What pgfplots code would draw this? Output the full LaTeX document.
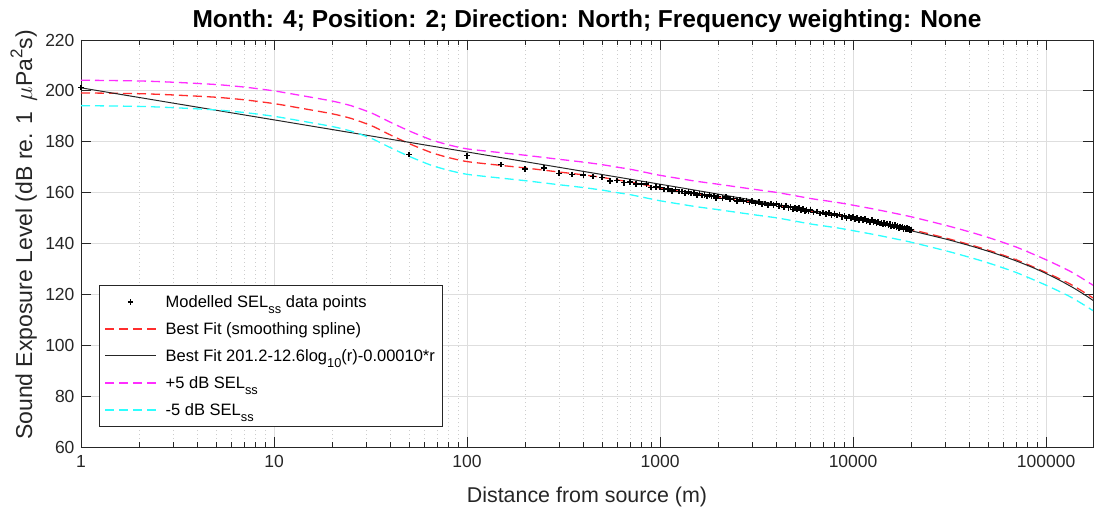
\documentclass[border=0pt]{standalone}
\usepackage{pgfplots}
\pgfplotsset{compat=1.18}
\usepackage{pgfplotstable}
\usepackage{fontspec}
\setmainfont{Liberation Sans}
\definecolor{axgray}{RGB}{38,38,38}
\definecolor{gridmaj}{RGB}{222,222,222}
\definecolor{gridmin}{RGB}{205,205,205}
\definecolor{myred}{RGB}{255,45,45}
\definecolor{mymag}{RGB}{255,45,255}
\definecolor{mycyan}{RGB}{45,255,255}
\newcommand{\sub}[1]{\raisebox{-6pt}{\fontsize{12.8}{14}\selectfont #1}}

\pgfplotstableread{
r      red    mag    cyan
1      199.2  204.2  194.2
2      198.9  203.9  193.9
3      198.4  203.4  193.4
5      197.5  202.5  192.5
7      196.5  201.5  191.5
10     195.0  200.0  190.0
14     193.1  198.1  188.1
20     191.0  196.0  186.0
25     189.2  194.2  184.2
32     186.3  191.3  181.3
40     182.7  187.7  177.7
50     179.3  184.3  174.3
65     175.8  180.8  170.8
80     173.8  178.8  168.8
100    172.2  177.2  167.2
150    170.7  175.7  165.7
200    169.7  174.7  164.7
300    168.1  173.1  163.1
400    167.0  172.0  162.0
500    166.0  171.0  161.0
600    165.0  170.0  160.0
700    164.2  169.2  159.2
800    163.3  168.3  158.3
900    162.5  167.5  157.5
1000   161.8  166.8  156.8
1500   159.6  164.6  154.6
2000   158.3  163.3  153.3
3000   156.4  161.4  151.4
4000   155.1  160.1  150.1
5000   153.8  158.8  148.8
6000   152.7  157.7  147.7
7000   151.95 156.95 146.95
8500   151.0  156.0  146.0
10000  150.05 155.05 145.05
12500  148.7  153.7  143.7
15000  147.5  152.5  142.5
20000  145.5  150.5  140.5
30000  142.2  147.2  137.2
40000  139.6  144.6  134.6
50000  137.4  142.4  132.4
70000  133.6  138.6  128.6
100000 128.6  133.6  123.6
130000 124.5  129.5  119.5
150000 121.8  126.8  116.8
175000 118.6  123.6  113.6
}\splinetab

\pgfplotstableread{
r      y
1      201.2
10     188.6
100    175.99
1000   163.3
2000   159.41
3000   157.09
5000   154.09
7000   152.05
10000  149.8
15000  147.08
20000  145.01
30000  141.79
40000  139.21
50000  136.99
60000  135.0
70000  133.15
80000  131.42
90000  129.78
100000 128.2
120000 125.2
140000 122.36
160000 119.63
175000 117.64
}\fittab

\pgfplotstableread{
r      y
1      201.3
50     175.0
100    174.5
150    171.0
200    169.3
250    169.6
300    167.6
350    167.2
400    166.9
450    166.3
500    166.0
550    164.6
600    164.8
650    163.9
700    164.2
750    163.3
800    163.3
850    163.4
900    162.0
950    162.3
1000   162.1
1050   161.15
1100   161.47
1150   160.7
1200   161.2
1250   160.37
1300   160.45
1350   159.75
1400   160.25
1450   159.68
1500   159.8
1550   159.12
1600   159.65
1650   158.9
1700   159.05
1750   158.42
1800   159.0
1850   158.45
1900   158.6
1950   157.85
2000   158.4
2100   157.78
2200   158.27
2300   157.45
2400   157.62
2500   156.8
2600   157.3
2700   156.75
2800   156.9
2900   156.05
3000   156.7
3125   156.0
3250   156.4
3375   155.55
3500   155.8
3625   155.15
3750   155.7
3875   155.15
4000   155.5
4125   154.63
4250   154.96
4375   154.2
4500   154.92
4625   154.06
4750   154.4
4875   153.45
5000   154.0
5125   153.55
5250   153.9
5375   153.06
5500   153.52
5625   152.68
5750   153.15
5875   152.62
6000   153.1
6250   152.2
6500   152.6
6750   151.72
7000   152.15
7250   151.58
7500   152.02
7750   150.97
8000   151.62
8250   151.05
8500   151.39
8750   150.53
9000   150.88
9250   150.1
9500   150.63
9750   149.99
10000  150.45
10250  149.6
10500  149.96
10750  149.22
11000  149.78
11250  149.23
11500  149.59
11750  148.75
12000  149.1
12250  148.38
12500  149.16
12750  148.33
13000  148.71
13250  147.98
13500  148.56
13750  147.83
14000  148.11
14250  147.4
14500  148.0
14750  147.49
15000  147.88
15250  147.07
15500  147.55
15750  146.74
16000  147.23
16250  146.73
16500  147.24
16750  146.44
17000  146.85
17250  146.14
17500  146.74
17750  146.23
18000  146.53
18250  145.74
18500  146.26
18750  145.67
19000  146.09
19250  145.59
19500  145.8
19750  145.3
20000  145.41
}\pointtab

\pgfplotsset{
  markleg/.style={legend image code/.code={%
    \draw[black, line width=1.5pt, mark=+, mark size=2.8pt, only marks] plot coordinates {(25.5pt,0pt)};}},
  lineleg/.style={legend image code/.code={\draw[##1] (0pt,0pt) -- (51pt,0pt);}},
}

\begin{document}
\begin{tikzpicture}
\begin{axis}[
  scale only axis, width=1012pt, height=407pt,
  xmode=log, xmin=1, xmax=175000, ymin=60, ymax=220,
  xtick={1,10,100,1000,10000,100000},
  xticklabels={1,10,100,1000,10000,100000},
  ytick={60,80,...,220},
  /pgf/number format/assume math mode=true,
  xmajorgrids, ymajorgrids, xminorgrids,
  major grid style={gridmaj, line width=0.8pt},
  minor grid style={gridmin, line width=0.8pt, dash pattern=on 1pt off 3pt},
  axis line style={axgray, line width=0.8pt},
  every tick/.style={axgray, line width=0.8pt},
  major tick length=10pt, minor tick length=5pt,
  tick align=inside,
  tick label style={font=\fontsize{17.5}{21}\selectfont, text=axgray},
  xticklabel style={yshift=-5pt},
  yticklabel style={xshift=-3pt},
  title={Month: 4; Position: 2; Direction: North; Frequency weighting: None},
  title style={font=\fontsize{24.5}{29}\selectfont\bfseries, at={(axis description cs:0.5,1.0295)}, anchor=base, yshift=-6pt},
  xlabel={Distance from source (m)},
  xlabel style={font=\fontsize{21.4}{25}\selectfont, text=axgray, at={(axis description cs:0.5,-0.1364)}, anchor=base},
  ylabel={Sound Exposure Level (dB re. 1\hspace{0.45em}$\mu$Pa\raisebox{0.42em}{\fontsize{17}{17}\selectfont 2}s)},
  ylabel style={font=\fontsize{23}{27}\selectfont, text=axgray, at={(axis description cs:-0.0484,0.521)}, anchor=base},
  legend cell align=left,
  legend style={at={(axis description cs:0.0178,0.0491)}, anchor=south west,
    draw=axgray, line width=0.8pt, fill=white, font=\fontsize{16.5}{20}\selectfont,
    inner xsep=5pt, inner ysep=8pt, row sep=9.5pt, column sep=7pt},
  lineleg,
]
\addplot[only marks, mark=+, mark size=2.8pt, line width=1.5pt, black, markleg]
  table[x=r,y=y] {\pointtab};
\addlegendentry{Modelled SEL\sub{ss} data points}
\addplot[myred, line width=1.3pt, dash pattern=on 9pt off 5pt, smooth, tension=0.4] table[x=r,y=red] {\splinetab};
\addlegendentry{Best Fit (smoothing spline)}
\addplot[black!85, line width=1pt, smooth, tension=0.3] table[x=r,y=y] {\fittab};
\addlegendentry{Best Fit 201.2-12.6log\sub{10}(r)-0.00010*r}
\addplot[mymag, line width=1.3pt, dash pattern=on 9pt off 5pt, smooth, tension=0.4] table[x=r,y=mag] {\splinetab};
\addlegendentry{+5 dB SEL\sub{ss}}
\addplot[mycyan, line width=1.3pt, dash pattern=on 9pt off 5pt, smooth, tension=0.4] table[x=r,y=cyan] {\splinetab};
\addlegendentry{-5 dB SEL\sub{ss}}
\end{axis}
\pgfresetboundingbox
\path[use as bounding box] ([shift={(-81pt,-59pt)}]current axis.south west) rectangle ([shift={(1pt,40pt)}]current axis.north east);
\end{tikzpicture}
\end{document}
